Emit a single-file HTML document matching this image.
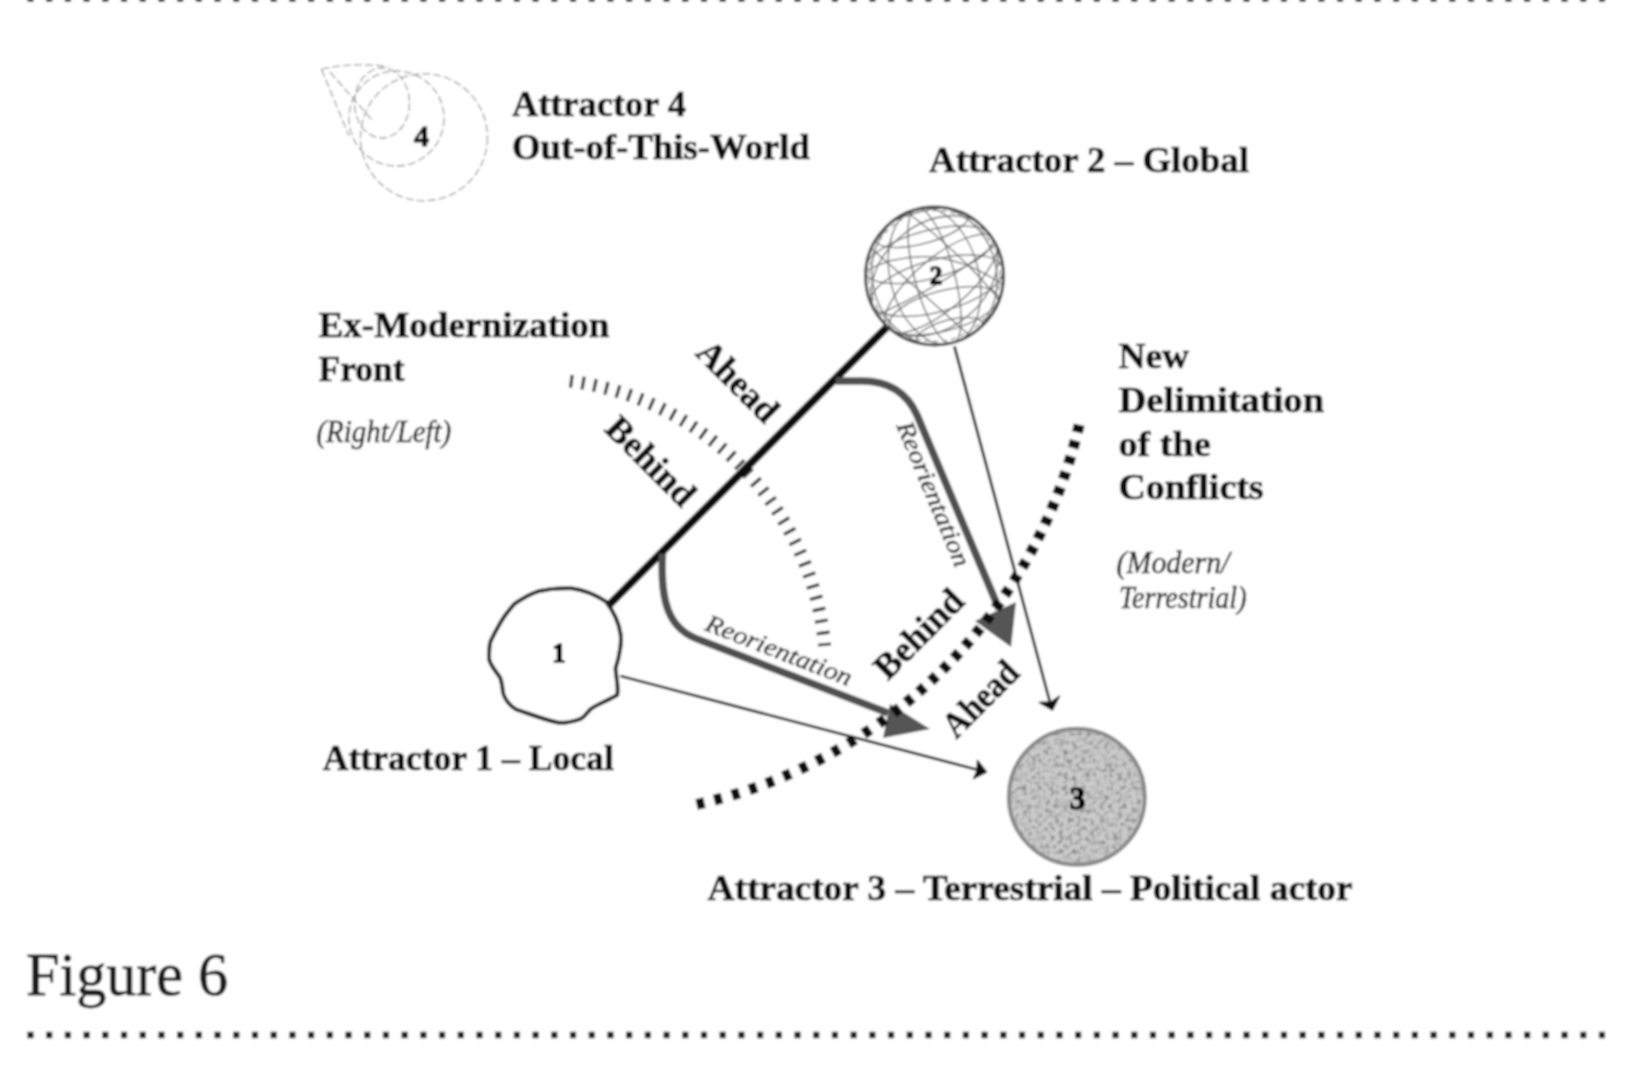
<!DOCTYPE html>
<html>
<head>
<meta charset="utf-8">
<style>
html,body{margin:0;padding:0;background:#fff;width:1640px;height:1074px;overflow:hidden}
svg{display:block}
.b{font-family:"Liberation Serif",serif;font-weight:bold;font-size:36px;fill:#111;stroke:#111;stroke-width:0.7}
.i{font-family:"Liberation Serif",serif;font-style:italic;font-size:32px;fill:#2a2a2a;stroke:#2a2a2a;stroke-width:0.6}
</style>
</head>
<body>
<svg width="1640" height="1074" viewBox="0 0 1640 1074">
<filter id="soft" x="-10" y="-10" width="1660" height="1100" filterUnits="userSpaceOnUse"><feGaussianBlur stdDeviation="0.8"/></filter>
<g filter="url(#soft)">
<rect x="0" y="0" width="1640" height="1074" fill="#fff"/>
<!-- page dotted rules -->
<line x1="27.4" y1="-1.5" x2="1610" y2="-1.5" stroke="#1a1a1a" stroke-width="6.5" stroke-dasharray="6.2 12.508"/>
<line x1="27.4" y1="1035" x2="1610" y2="1035" stroke="#1a1a1a" stroke-width="6.5" stroke-dasharray="6.2 12.508"/>

<!-- Figure caption -->
<text x="26" y="995" style='font-family:"Liberation Serif",serif;font-size:62px;fill:#1a1a1a;stroke:#1a1a1a;stroke-width:0.8' textLength="202" lengthAdjust="spacingAndGlyphs">Figure 6</text>

<!-- labels -->
<text class="b" x="512" y="116" textLength="174" lengthAdjust="spacingAndGlyphs">Attractor 4</text>
<text class="b" x="512" y="158.5" textLength="298" lengthAdjust="spacingAndGlyphs">Out-of-This-World</text>
<text class="b" x="929" y="171.5" textLength="320" lengthAdjust="spacingAndGlyphs">Attractor 2 – Global</text>
<text class="b" x="318.5" y="337" textLength="291" lengthAdjust="spacingAndGlyphs">Ex-Modernization</text>
<text class="b" x="318.5" y="380.5" textLength="86" lengthAdjust="spacingAndGlyphs">Front</text>
<text class="i" x="316.5" y="441.5" textLength="134.7" lengthAdjust="spacingAndGlyphs">(Right/Left)</text>
<text class="b" x="1118.5" y="368" textLength="70.6" lengthAdjust="spacingAndGlyphs">New</text>
<text class="b" x="1118.5" y="412" textLength="205.6" lengthAdjust="spacingAndGlyphs">Delimitation</text>
<text class="b" x="1118.5" y="455.5" textLength="92.3" lengthAdjust="spacingAndGlyphs">of the</text>
<text class="b" x="1118.5" y="498.7" textLength="145" lengthAdjust="spacingAndGlyphs">Conflicts</text>
<text class="i" x="1116.5" y="572.5" textLength="113" lengthAdjust="spacingAndGlyphs">(Modern/</text>
<text class="i" x="1119" y="608" textLength="127.5" lengthAdjust="spacingAndGlyphs">Terrestrial)</text>
<text class="b" x="322.8" y="769.8" textLength="291" lengthAdjust="spacingAndGlyphs">Attractor 1 – Local</text>
<text class="b" x="707.6" y="900.4" textLength="645" lengthAdjust="spacingAndGlyphs">Attractor 3 – Terrestrial – Political actor</text>

<!-- thin dashed arc (Ex-Modernization front) -->
<path d="M569.8 381.1 A293.8 293.8 0 0 1 824.6 645.8" fill="none" stroke="#2a2a2a" stroke-width="13" stroke-dasharray="3.2 8.745"/>

<!-- thick black line 1-2 -->
<line x1="609" y1="605" x2="887" y2="327" stroke="#0a0a0a" stroke-width="8"/>

<!-- gray reorientation path lower -->
<path d="M662.5 554 C660 605 670 630 700 640 L888 713" fill="none" stroke="#505050" stroke-width="7.5"/>
<polygon points="890,704 883,738 930,729" fill="#555"/>
<!-- gray reorientation path upper -->
<path d="M836 381 L862 381 C890 381 907 393 917 415 L999 609" fill="none" stroke="#505050" stroke-width="7.5"/>
<polygon points="975,621 1016,602 1011,647" fill="#555"/>

<!-- thick dotted curve -->
<g fill="#111">
<rect x="-4" y="-5.5" width="8" height="11" transform="translate(700.5 803.6) rotate(167.0)"/>
<rect x="-4" y="-5.5" width="8" height="11" transform="translate(718.1 799.1) rotate(164.9)"/>
<rect x="-4" y="-5.5" width="8" height="11" transform="translate(735.7 794.1) rotate(162.8)"/>
<rect x="-4" y="-5.5" width="8" height="11" transform="translate(753.0 788.4) rotate(160.8)"/>
<rect x="-4" y="-5.5" width="8" height="11" transform="translate(770.1 782.1) rotate(158.7)"/>
<rect x="-4" y="-5.5" width="8" height="11" transform="translate(787.0 775.1) rotate(156.6)"/>
<rect x="-4" y="-5.5" width="8" height="11" transform="translate(803.6 767.6) rotate(154.6)"/>
<rect x="-4" y="-5.5" width="8" height="11" transform="translate(819.9 759.5) rotate(152.5)"/>
<rect x="-4" y="-5.5" width="8" height="11" transform="translate(835.9 750.8) rotate(150.4)"/>
<rect x="-4" y="-5.5" width="8" height="11" transform="translate(851.6 741.5) rotate(148.4)"/>
<rect x="-4" y="-5.5" width="8" height="11" transform="translate(866.9 731.7) rotate(146.3)"/>
<rect x="-4" y="-5.5" width="8" height="11" transform="translate(881.9 721.3) rotate(144.2)"/>
<rect x="-4" y="-5.5" width="8" height="11" transform="translate(896.5 710.4) rotate(142.2)"/>
<rect x="-4" y="-5.5" width="8" height="11" transform="translate(909.2 700.2) rotate(140.3)"/>
<rect x="-4" y="-5.5" width="8" height="11" transform="translate(921.6 689.6) rotate(138.5)"/>
<rect x="-4" y="-5.5" width="8" height="11" transform="translate(933.6 678.6) rotate(136.6)"/>
<rect x="-4" y="-5.5" width="8" height="11" transform="translate(945.2 667.3) rotate(134.8)"/>
<rect x="-4" y="-5.5" width="8" height="11" transform="translate(956.5 655.5) rotate(133.0)"/>
<rect x="-4" y="-5.5" width="8" height="11" transform="translate(967.4 643.4) rotate(131.1)"/>
<rect x="-4" y="-5.5" width="8" height="11" transform="translate(977.9 631.0) rotate(129.3)"/>
<rect x="-4" y="-5.5" width="8" height="11" transform="translate(988.0 618.2) rotate(127.4)"/>
<rect x="-4" y="-5.5" width="8" height="11" transform="translate(997.7 605.2) rotate(125.6)"/>
<rect x="-4" y="-5.5" width="8" height="11" transform="translate(1007.0 591.8) rotate(123.7)"/>
<rect x="-4" y="-5.5" width="8" height="11" transform="translate(1015.8 578.1) rotate(121.9)"/>
<rect x="-4" y="-5.5" width="8" height="11" transform="translate(1024.2 564.1) rotate(120.1)"/>
<rect x="-4" y="-5.5" width="8" height="11" transform="translate(1032.1 549.9) rotate(118.2)"/>
<rect x="-4" y="-5.5" width="8" height="11" transform="translate(1039.5 535.5) rotate(116.4)"/>
<rect x="-4" y="-5.5" width="8" height="11" transform="translate(1046.5 520.8) rotate(114.5)"/>
<rect x="-4" y="-5.5" width="8" height="11" transform="translate(1053.0 505.9) rotate(112.7)"/>
<rect x="-4" y="-5.5" width="8" height="11" transform="translate(1059.1 490.8) rotate(110.8)"/>
<rect x="-4" y="-5.5" width="8" height="11" transform="translate(1064.6 475.5) rotate(109.0)"/>
<rect x="-4" y="-5.5" width="8" height="11" transform="translate(1069.7 460.0) rotate(107.1)"/>
<rect x="-4" y="-5.5" width="8" height="11" transform="translate(1074.2 444.4) rotate(105.3)"/>
<rect x="-4" y="-5.5" width="8" height="11" transform="translate(1078.3 428.6) rotate(103.5)"/>
</g>

<!-- thin arrows -->
<line x1="620.4" y1="676" x2="984" y2="771.5" stroke="#111" stroke-width="2.8"/>
<polygon points="977.5,760.5 986.5,772 973.5,778.5 977,771" fill="#111" stroke="#111" stroke-width="1.5" stroke-linejoin="round"/>
<line x1="954.4" y1="346.3" x2="1051.5" y2="708" stroke="#111" stroke-width="2.8"/>
<polygon points="1039.5,702.5 1052.5,710 1059.5,696 1051,702" fill="#111" stroke="#111" stroke-width="1.5" stroke-linejoin="round"/>

<!-- rotated labels -->
<text class="b" transform="translate(738,381) rotate(45)" text-anchor="middle" y="12" textLength="100" lengthAdjust="spacingAndGlyphs">Ahead</text>
<text class="b" transform="translate(651,461) rotate(45)" text-anchor="middle" y="12" textLength="111" lengthAdjust="spacingAndGlyphs">Behind</text>
<text class="b" transform="translate(918.6,633.8) rotate(-45)" text-anchor="middle" y="12" textLength="111" lengthAdjust="spacingAndGlyphs">Behind</text>
<text class="b" transform="translate(980.3,698.7) rotate(-45)" text-anchor="middle" y="12" textLength="92" lengthAdjust="spacingAndGlyphs">Ahead</text>
<text class="i" style="font-size:25px;fill:#2a2a2a;stroke:#2a2a2a;stroke-width:0.5" transform="translate(776,658) rotate(21.3)" text-anchor="middle" textLength="155" lengthAdjust="spacingAndGlyphs">Reorientation</text>
<text class="i" style="font-size:25px;fill:#2a2a2a;stroke:#2a2a2a;stroke-width:0.5" transform="translate(926,497) rotate(67.4)" text-anchor="middle" textLength="155" lengthAdjust="spacingAndGlyphs">Reorientation</text>

<!-- circle 1 -->
<path d="M514.3 604 C525 597 535 591 542.8 590.6 C552 588 562 588 571.3 588.2 C585 590 596 595 606.1 601.7 C614 612 619 624 620.4 633.3 C622 640 620 655 615.6 668.1 C616 678 619 688 617.2 695 C607 701 598 704 590.3 709.3 C586 714 584 717 580.8 718.8 C572 722 565 723 558.6 722.8 C545 720 530 714 515.9 709.3 C509 705 505 699 503.2 693.5 C502 686 502 682 500.1 677.6 C495 670 490 665 489 658.6 C489 652 489 646 490.6 641.2 C496 630 502 618 509.6 609.6 Z" fill="#fff" stroke="#222" stroke-width="4"/>
<text class="b" style="font-size:27px;fill:#000;stroke:#000;stroke-width:1.3" x="559" y="661.5" text-anchor="middle">1</text>

<!-- globe 2 -->
<g transform="translate(934.5 276)">
<clipPath id="gc"><circle cx="0" cy="0" r="70"/></clipPath>
<circle r="70" fill="#fff"/>
<g clip-path="url(#gc)" fill="none" stroke="#606060" stroke-width="1.3">
<g transform="rotate(-15)">
<ellipse cx="0" cy="58" rx="34" ry="12"/>
<ellipse cx="0" cy="36" rx="56" ry="20"/>
<ellipse cx="0" cy="10" rx="68" ry="26"/>
<ellipse cx="0" cy="-22" rx="66" ry="24"/>
<ellipse cx="0" cy="-50" rx="48" ry="16"/>
<ellipse cx="0" cy="0" rx="62" ry="70"/>
<ellipse cx="0" cy="0" rx="44" ry="70"/>
<ellipse cx="0" cy="0" rx="20" ry="70"/>
</g>
<g transform="rotate(50)">
<ellipse cx="0" cy="0" rx="52" ry="70"/>
<ellipse cx="10" cy="0" rx="26" ry="70"/>
</g>
<path d="M-70 -5 Q0 -40 70 10"/>
<path d="M-60 40 Q10 10 65 -35"/>
<path d="M-66 -30 Q-20 10 40 64"/>
<path d="M-30 -66 Q30 -20 68 28"/>
</g>
<circle r="69" fill="none" stroke="#444" stroke-width="3"/>
<circle r="65.5" fill="none" stroke="#999" stroke-width="1.5" stroke-dasharray="5 4"/>
<text class="b" style="font-size:25px;fill:#000;stroke:#000;stroke-width:1.4" x="1.5" y="7.5" text-anchor="middle">2</text>
</g>

<!-- circle 3 -->
<filter id="mott" x="-10%" y="-10%" width="120%" height="120%">
<feTurbulence type="fractalNoise" baseFrequency="0.22" numOctaves="2" seed="7" result="n"/>
<feColorMatrix in="n" type="matrix" values="0 0 0 0 0  0 0 0 0 0  0 0 0 0 0  0 0 0 2.2 -0.95" result="a"/>
<feComposite in="a" in2="SourceGraphic" operator="in" result="t"/>
<feFlood flood-color="#707070"/>
<feComposite in2="t" operator="in" result="dark"/>
<feMerge><feMergeNode in="SourceGraphic"/><feMergeNode in="dark"/></feMerge>
</filter>
<circle cx="1076.8" cy="796.8" r="68" fill="#cbcbcb" filter="url(#mott)"/>
<circle cx="1076.8" cy="796.8" r="68" fill="none" stroke="#8a8a8a" stroke-width="4"/>
<text class="b" style="font-size:32px;fill:#000;stroke:#000;stroke-width:1.3" x="1077.5" y="808.5" text-anchor="middle">3</text>

<!-- attractor 4 scribble -->
<g fill="none" stroke="#9c9c9c" stroke-width="1.3" stroke-dasharray="8 3">
<ellipse cx="382" cy="103" rx="27.5" ry="35"/>
<circle cx="396.5" cy="118.5" r="47.5"/>
<circle cx="424" cy="137.3" r="63.5"/>
<path d="M321.5 69.4 L349 136"/>
<path d="M321.5 69.4 Q350 62 388 66.5"/>
<path d="M330 72 L372 120"/>
</g>
<text class="b" style="font-size:30px;stroke:#111;stroke-width:1.2" x="421.5" y="146" text-anchor="middle">4</text>
</g>
</svg>
</body>
</html>
